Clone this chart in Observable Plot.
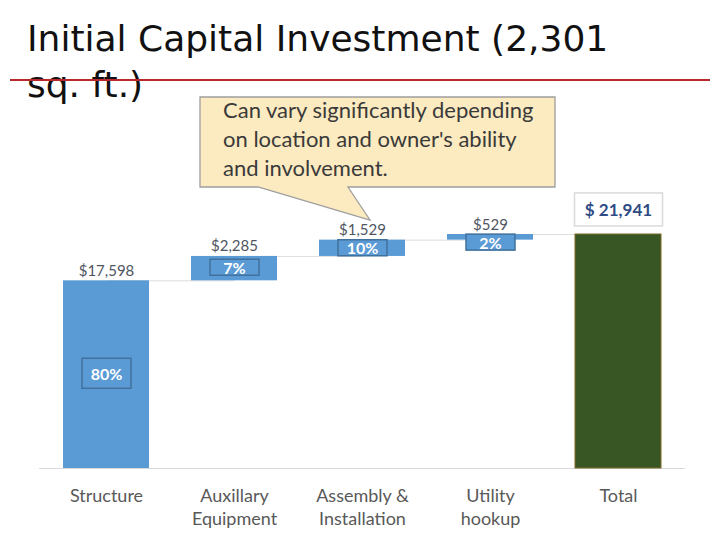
<!DOCTYPE html>
<html>
<head>
<meta charset="utf-8">
<script src="https://cdn.jsdelivr.net/npm/d3@7"></script>
<script src="https://cdn.jsdelivr.net/npm/@observablehq/plot@0.6"></script>
<style>
  html, body { margin: 0; padding: 0; background: #fff; }
  #wrap { position: relative; width: 720px; height: 540px; overflow: hidden; font-family: Lato, "Open Sans", sans-serif; }
  #chart { position: absolute; left: 0; top: 0; }
  #title { position: absolute; left: 27px; top: 16px; font-family: "DejaVu Sans", sans-serif; font-size: 36px; line-height: 46px; color: #111; white-space: nowrap; }
  #rule { position: absolute; left: 10px; top: 79px; width: 700px; height: 2px; background: #B8282C; }
  #callout { position: absolute; left: 0; top: 0; }
</style>
</head>
<body>
<div id="wrap">
  <div id="chart"></div>
  <div id="title">Initial Capital Investment (2,301<br>sq. ft.)</div>
  <div id="rule"></div>
  <svg id="callout" width="720" height="540">
    <path d="M200,97 H555 V187 H348 L370,220 L258,187 H200 Z" fill="#FCEAC0" stroke="#9E9E9E" stroke-width="1.3"/>
    <g font-family="Lato, sans-serif" font-size="22" fill="#3A3A3A">
      <text x="223" y="118">Can vary significantly depending</text>
      <text x="223" y="147">on location and owner's ability</text>
      <text x="223" y="176">and involvement.</text>
    </g>
  </svg>
</div>
<script>
// ---- data ----
const categories = ["Structure", "Auxillary\nEquipment", "Assembly &\nInstallation", "Utility\nhookup", "Total"];
const amounts = [17598, 2285, 1529, 529, 21941];
const valueLabels = ["$17,598", "$2,285", "$1,529", "$529", "$ 21,941"];
const shareLabels = ["80%", "7%", "10%", "2%", ""];

// ---- build waterfall steps ----
const steps = [];
let run = 0;
categories.forEach((c, i) => {
  const isTotal = i === categories.length - 1;
  const start = isTotal ? 0 : run;
  const end = isTotal ? amounts[i] : run + amounts[i];
  if (!isTotal) run = end;
  steps.push({cat: c, start, end, value: amounts[i], label: valueLabels[i], share: shareLabels[i], isTotal});
});
const connectors = steps.slice(0, -1).map((s, i) => ({from: s.cat, to: steps[i + 1].cat, level: s.end}));

const yDomain = [0, d3.max(amounts)];
const yRange = [468, 234];
const pxPerUnit = (yRange[0] - yRange[1]) / (yDomain[1] - yDomain[0]);
const boxH = s => ((s.end - s.start) * pxPerUnit > 60 ? 30 : 16);
// share label position: middle of bar, but keep the label box below bar top
const shareY = s => {
  const mid = (s.start + s.end) / 2;
  const minOffsetPx = boxH(s) / 2 + 1;
  return Math.min(mid, s.end - minOffsetPx / pxPerUnit);
};

const blue = "#5B9BD5";
const chart = Plot.plot({
  width: 720,
  height: 540,
  marginLeft: 39,
  marginRight: 35,
  marginTop: 0,
  marginBottom: 0,
  style: {fontFamily: "Lato, sans-serif", background: "transparent"},
  x: {domain: categories, paddingInner: 0.33, paddingOuter: 0.17, axis: null},
  y: {domain: yDomain, range: yRange, axis: null},
  marks: [
    Plot.ruleY([0], {stroke: "#D9D9D9", strokeWidth: 1}),
    Plot.link(connectors, {x1: "from", x2: "to", y1: "level", y2: "level", stroke: "#DDDDDD", strokeWidth: 1}),
    Plot.barY(steps, {x: "cat", y1: "start", y2: "end",
      fill: d => d.isTotal ? "#375623" : blue,
      stroke: d => d.isTotal ? "#7F6A2A" : "none", strokeWidth: 1}),
    Plot.text(steps.filter(d => !d.isTotal), {x: "cat", y: "end", text: "label", dy: -5, lineAnchor: "bottom",
      fontSize: 15, fill: "#50555F"}),
    Plot.text(steps.filter(d => d.isTotal), {x: "cat", y: "end", text: "label", dy: -24,
      fontSize: 17, fontWeight: "bold", fill: "#2F4B85", ariaDescription: "total-label"}),
    Plot.text(steps.filter(d => !d.isTotal), {x: "cat", y: shareY, text: "share",
      fontSize: 16, fontWeight: "bold", fill: "#FFFFFF", ariaDescription: "share-labels"}),
    Plot.text(categories, {x: d => d, y: 0, text: d => d, lineAnchor: "top", dy: 16, lineHeight: 1.33,
      fontSize: 18, fill: "#595959"})
  ]
});
document.getElementById("chart").appendChild(chart);

// ---- boxes behind data labels ----
function boxBehind(textEl, w, h, fill, stroke, sw) {
  const bb = textEl.getBBox();
  const cx = bb.x + bb.width / 2, cy = bb.y + bb.height / 2;
  const r = document.createElementNS("http://www.w3.org/2000/svg", "rect");
  r.setAttribute("x", cx - w / 2);
  r.setAttribute("y", cy - h / 2);
  r.setAttribute("width", w);
  r.setAttribute("height", h);
  r.setAttribute("fill", fill);
  r.setAttribute("stroke", stroke);
  r.setAttribute("stroke-width", sw);
  const t = textEl.getAttribute("transform");
  if (t) r.setAttribute("transform", t);
  textEl.parentNode.insertBefore(r, textEl);
}
const shareSteps = steps.filter(d => !d.isTotal);
chart.querySelectorAll('g[aria-description="share-labels"] text').forEach((t, i) => {
  boxBehind(t, 49, boxH(shareSteps[i]), blue, "#41719C", 1.5);
});
chart.querySelectorAll('g[aria-description="total-label"] text').forEach(t => {
  boxBehind(t, 88, 33, "#FFFFFF", "#D9D9D9", 1.5);
});
</script>
</body>
</html>
